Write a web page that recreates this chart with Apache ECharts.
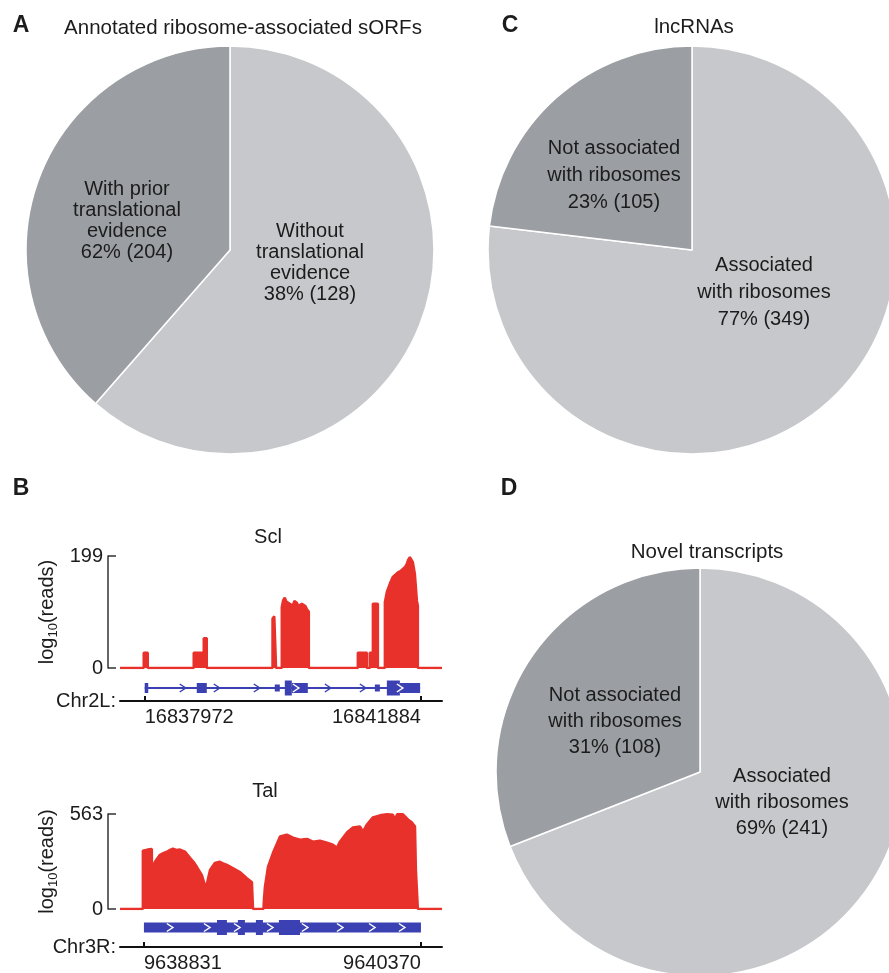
<!DOCTYPE html>
<html><head><meta charset="utf-8">
<script src="https://cdn.jsdelivr.net/npm/echarts@6/dist/echarts.min.js"></script>
<style>html,body{margin:0;padding:0;background:#fff}#c{width:889px;height:973px}</style>
</head><body><div id="c"></div>
<script>
// ================= DATA =================
// Panel A: annotated ribosome-associated sORFs (slice sizes as drawn: light, dark)
const sorfValues = [204, 128];
const sorfLabels = ['Without\ntranslational\nevidence\n38% (128)', 'With prior\ntranslational\nevidence\n62% (204)'];
// Panel C: lncRNAs (associated, not associated)
const lncValues = [349, 105];
const lncLabels = ['Associated\nwith ribosomes\n77% (349)', 'Not associated\nwith ribosomes\n23% (105)'];
// Panel D: novel transcripts (associated, not associated)
const novelValues = [241, 108];
const novelLabels = ['Associated\nwith ribosomes\n69% (241)', 'Not associated\nwith ribosomes\n31% (108)'];

// Panel B, Scl track (positions in bp relative to sclStart)
const sclStart = 16837972, sclEnd = 16841884, sclYMax = 199;
const sclPos = [-350, -14, -14, 43, 43, 694, 694, 836, 836, 879, 879,
  1810, 1810, 1835, 1860, 1860,
  1941, 1941, 1960, 1984, 2005, 2026, 2055, 2083, 2097, 2120, 2154, 2175, 2196, 2225, 2253, 2275, 2295, 2310, 2324, 2324,
  3018, 3018, 3146, 3146, 3188, 3188, 3231, 3231, 3302, 3302,
  3401, 3401, 3429, 3472, 3514, 3550, 3585, 3620, 3656, 3690, 3712, 3727, 3755, 3783, 3797, 3826, 3854, 3868, 3868, 4210];
const sclCov = [0, 0, 27, 27, 0, 0, 27, 27, 53, 53, 0,
  0, 88, 92, 95, 0,
  0, 108, 120, 125, 118, 121, 114, 117, 111, 119, 116, 110, 108, 114, 116, 110, 105, 102, 100, 0,
  0, 27, 27, 0, 0, 27, 27, 114, 114, 0,
  0, 117, 135, 150, 162, 166, 170, 172, 176, 180, 185, 191, 197, 194, 188, 167, 120, 110, 0, 0];
const sclGene = [0, 3900];
// exons: [start, end, kind]  kind 0 = small, 1 = UTR, 2 = CDS
const sclExons = [[0, 50, 1], [737, 879, 1], [1842, 1913, 0], [1984, 2083, 2], [2083, 2310, 1],
  [3259, 3330, 0], [3429, 3613, 2], [3613, 3900, 1]];
const sclChevrons = [538, 1020, 1587, 2140, 2593, 3089, 3613];

// Panel B, Tal track (positions in bp relative to talStart)
const talStart = 9638831, talEnd = 9640370, talYMax = 563;
const talPos = [-133, -6, -6, 20, 44, 44, 61, 89, 110, 128, 145, 161, 180, 200, 228, 256, 275, 294, 322, 344,
  367, 394, 422, 440, 461, 494, 533, 572, 600, 606, 606,
  664, 667, 672, 689, 717, 756, 794, 828, 867, 906, 939, 978, 1017, 1050, 1072, 1089, 1128, 1161, 1200,
  1217, 1239, 1272, 1311, 1350, 1383, 1395, 1406, 1439, 1467, 1489, 1506, 1511, 1522, 1522, 1656];
const talCov = [0, 0, 345, 352, 355, 231, 280, 321, 332, 339, 350, 357, 350, 352, 340, 303, 280, 250, 201, 123,
  231, 273, 280, 270, 261, 243, 219, 183, 159, 150, 0,
  0, 60, 129, 250, 333, 430, 441, 423, 411, 415, 399, 405, 393, 381, 363, 399, 453, 483, 489,
  459, 501, 543, 555, 561, 558, 531, 561, 561, 531, 513, 489, 231, 231, 0, 0];
const talGene = [0, 1539];
const talExons = [[0, 1539, 1], [406, 461, 2], [522, 561, 2], [622, 661, 2], [750, 867, 2]];
const talChevrons = [144, 350, 517, 700, 894, 1089, 1267, 1433];

// ================= STYLE / LAYOUT =================
const FONT = "'Liberation Sans', Arial, Helvetica, sans-serif";
const RED = '#e8312b', BLUE = '#3b41b3', DARK = '#9b9ea2', LIGHT = '#c6c8cb', INK = '#1c1c1c';
const KIND_H = [7, 10, 15];

const chart = echarts.init(document.getElementById('c'), null, {renderer: 'canvas', width: 889, height: 973});

const grid = [], xAxis = [], yAxis = [], series = [], graphic = [];

function txt(x, y, text, size, opts) {
  graphic.push({type: 'text', x: x, y: y, silent: true, z: 10,
    style: Object.assign({text: text, fill: INK, font: (opts && opts.bold ? 'bold ' : '') + size + 'px ' + FONT,
      align: 'center', verticalAlign: 'middle'}, opts && opts.lh ? {lineHeight: opts.lh} : {})});
}

// ---- pies ----
function pie(center, values, labels, labelPos, lineH) {
  series.push({type: 'pie', center: center, radius: 204, startAngle: 90, clockwise: true, silent: true,
    animation: false, avoidLabelOverlap: false,
    label: {show: false}, labelLine: {show: false},
    itemStyle: {borderColor: '#fff', borderWidth: 1.5},
    data: values.map((v, i) => ({value: v, itemStyle: {color: i === 0 ? LIGHT : DARK}}))});
  labels.forEach((l, i) => txt(labelPos[i][0], labelPos[i][1], l, 20, {lh: lineH}));
}
pie([230, 250], sorfValues, sorfLabels, [[310, 263], [127, 221]], 21);
pie([692, 250], lncValues, lncLabels, [[764, 292], [614, 175]], 27);
pie([700, 772], novelValues, novelLabels, [[782, 802], [615, 721]], 26);

// ---- tracks ----
const tracks = [
  {title: 'Scl', tpos: [268, 537], chrom: 'Chr2L:', start: sclStart, end: sclEnd, yMax: sclYMax,
   min: -350, max: 4210, pos: sclPos, cov: sclCov, gene: sclGene, exons: sclExons, chev: sclChevrons,
   covTop: 556, covH: 112, geneTop: 675, geneH: 26},
  {title: 'Tal', tpos: [265, 791], chrom: 'Chr3R:', start: talStart, end: talEnd, yMax: talYMax,
   min: -133, max: 1656, pos: talPos, cov: talCov, gene: talGene, exons: talExons, chev: talChevrons,
   covTop: 814, covH: 95, geneTop: 908, geneH: 42}
];

tracks.forEach(t => {
  const span = t.end - t.start;
  // coverage
  const gi = grid.length;
  grid.push({left: 120, width: 322, top: t.covTop, height: t.covH});
  const xi = xAxis.length;
  xAxis.push({gridIndex: gi, type: 'value', min: t.min, max: t.max, show: false});
  const yi = yAxis.length;
  yAxis.push({gridIndex: gi, type: 'value', min: 0, max: t.yMax, interval: t.yMax, position: 'left', offset: 12,
    axisLine: {show: true, onZero: false, lineStyle: {color: '#333', width: 1.5}},
    axisTick: {show: true, inside: true, length: 8, lineStyle: {color: '#333', width: 1.5}},
    axisLabel: {fontSize: 20, color: INK, fontFamily: FONT, margin: 5},
    splitLine: {show: false},
    name: 'log{s|10}(reads)', nameLocation: 'middle', nameGap: 48,
    nameTextStyle: {fontSize: 20, color: INK, fontFamily: FONT, lineHeight: 26,
      rich: {s: {fontSize: 13, fontFamily: FONT, color: INK, verticalAlign: 'bottom', lineHeight: 13}}}});
  series.push({type: 'line', xAxisIndex: xi, yAxisIndex: yi, symbol: 'none', silent: true, animation: false,
    data: t.pos.map((p, i) => [p, t.cov[i]]),
    lineStyle: {color: RED, width: 2.5}, areaStyle: {color: RED, opacity: 1}});
  txt(t.tpos[0], t.tpos[1], t.title, 20);

  // gene model + chromosome axis
  const gg = grid.length;
  grid.push({left: 120, width: 322, top: t.geneTop, height: t.geneH});
  const lab = {fontSize: 20, color: INK, fontFamily: FONT, margin: 6};
  const xa = xAxis.length;
  xAxis.push({gridIndex: gg, type: 'value', min: t.min, max: t.max, position: 'bottom',
    axisLine: {show: true, onZero: false, lineStyle: {color: '#111', width: 2}},
    axisTick: {show: true, inside: true, length: 5, customValues: [0, span], lineStyle: {color: '#111', width: 2}},
    axisLabel: Object.assign({customValues: [0], align: 'left', formatter: v => String(t.start + v)}, lab),
    splitLine: {show: false},
    name: t.chrom, nameLocation: 'start', nameGap: 4,
    nameTextStyle: {fontSize: 20, color: INK, fontFamily: FONT}});
  xAxis.push({gridIndex: gg, type: 'value', min: t.min, max: t.max, position: 'bottom',
    axisLine: {show: false, onZero: false}, axisTick: {show: false},
    axisLabel: Object.assign({customValues: [span], align: 'right', formatter: v => String(t.start + v)}, lab),
    splitLine: {show: false}});
  const yg = yAxis.length;
  yAxis.push({gridIndex: gg, type: 'value', min: -1, max: 1, show: false});

  series.push({type: 'line', xAxisIndex: xa, yAxisIndex: yg, symbol: 'none', silent: true, animation: false,
    data: [[t.gene[0], 0], [t.gene[1], 0]], lineStyle: {color: BLUE, width: 2}});
  series.push({type: 'custom', xAxisIndex: xa, yAxisIndex: yg, silent: true, animation: false,
    data: t.exons,
    renderItem: (params, api) => {
      const s = api.coord([api.value(0), 0]);
      const e = api.coord([api.value(1), 0]);
      const h = KIND_H[api.value(2)];
      return {type: 'rect', shape: {x: s[0], y: s[1] - h / 2, width: e[0] - s[0], height: h},
        style: {fill: BLUE}};
    }});
  const chevData = t.chev.map(p => [p, t.exons.some(e => p >= e[0] && p <= e[1]) ? 1 : 0]);
  series.push({type: 'custom', xAxisIndex: xa, yAxisIndex: yg, silent: true, animation: false, z: 5,
    data: chevData,
    renderItem: (params, api) => {
      const c = api.coord([api.value(0), 0]);
      return {type: 'polyline', shape: {points: [[c[0] - 3, c[1] - 4], [c[0] + 3, c[1]], [c[0] - 3, c[1] + 4]]},
        style: {stroke: api.value(1) ? '#fff' : BLUE, fill: null, lineWidth: 1.5}};
    }});
});

// ---- titles and panel letters ----
txt(243, 28, 'Annotated ribosome-associated sORFs', 20.5);
txt(694, 27, 'lncRNAs', 20.5);
txt(707, 552, 'Novel transcripts', 20.5);
txt(21, 26, 'A', 23, {bold: true});
txt(21, 489, 'B', 23, {bold: true});
txt(510, 26, 'C', 23, {bold: true});
txt(509, 489, 'D', 23, {bold: true});

chart.setOption({animation: false, backgroundColor: '#fff', textStyle: {fontFamily: FONT},
  grid: grid, xAxis: xAxis, yAxis: yAxis, series: series, graphic: graphic});
</script>
</body></html>
